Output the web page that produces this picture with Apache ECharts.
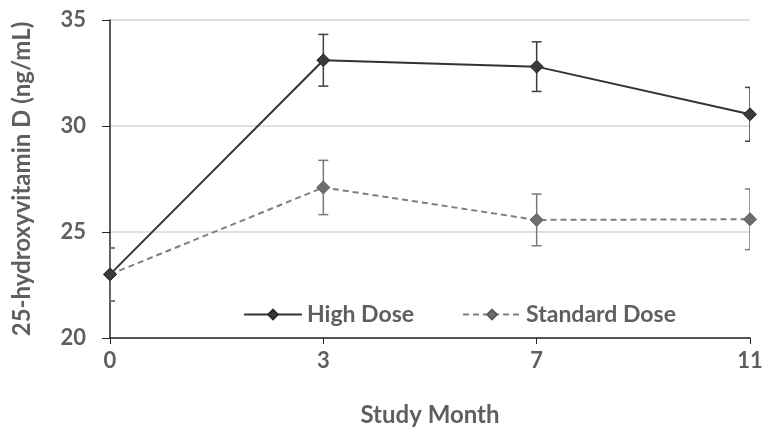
<!DOCTYPE html>
<html><head><meta charset="utf-8">
<script src="https://cdn.jsdelivr.net/npm/echarts@6/dist/echarts.min.js"></script>
<style>html,body{margin:0;padding:0;background:#fff}#c{width:770px;height:440px}</style>
</head><body><div id="c"></div>
<script>
const categories = ['0', '3', '7', '11'];
const highDose = [23.0, 33.1, 32.8, 30.55];
const highErr = [1.25, 1.22, 1.17, 1.27];
const standardDose = [23.0, 27.1, 25.57, 25.6];
const standardErr = [1.25, 1.28, 1.22, 1.43];
const yTicks = [20, 25, 30, 35];

const FONT = 'Lato, "Open Sans", sans-serif';
const TXT = '#5f5f5f';

function errSeries(name, vals, errs, color) {
  return {
    type: 'custom', name: name + ' err', z: 1, clip: true,
    data: vals.map((v, i) => [i, v - errs[i], v + errs[i]]),
    renderItem: function (params, api) {
      const lo = api.coord([api.value(0), api.value(1)]);
      const hi = api.coord([api.value(0), api.value(2)]);
      const hw = 5;
      const st = { stroke: color, lineWidth: 1.5 };
      return { type: 'group', children: [
        { type: 'line', shape: { x1: lo[0], y1: lo[1], x2: hi[0], y2: hi[1] }, style: st },
        { type: 'line', shape: { x1: lo[0] - hw, y1: lo[1], x2: lo[0] + hw, y2: lo[1] }, style: st },
        { type: 'line', shape: { x1: hi[0] - hw, y1: hi[1], x2: hi[0] + hw, y2: hi[1] }, style: st }
      ]};
    },
    silent: true
  };
}

const chart = echarts.init(document.getElementById('c'));
chart.setOption({
  animation: false,
  textStyle: { fontFamily: FONT },
  grid: { left: 110, right: 20, top: 20, bottom: 102 },
  legend: {
    left: 238, top: 298, itemWidth: 58, itemHeight: 12, itemGap: 48,
    textStyle: { color: TXT, fontSize: 23, fontWeight: 'bold', fontFamily: FONT },
    data: ['High Dose', 'Standard Dose']
  },
  xAxis: {
    type: 'category', data: categories, boundaryGap: false,
    axisLine: { lineStyle: { color: '#262626', width: 1.5 } },
    axisTick: { show: true, alignWithLabel: true, length: 6, lineStyle: { color: '#262626' } },
    axisLabel: { color: TXT, fontSize: 22, fontWeight: 'bold', margin: 12 },
    name: 'Study Month', nameLocation: 'middle', nameGap: 65,
    nameTextStyle: { color: TXT, fontSize: 24, fontWeight: 'bold' }
  },
  yAxis: {
    type: 'value', min: yTicks[0], max: yTicks[yTicks.length - 1], interval: 5,
    axisLine: { show: true, lineStyle: { color: '#262626', width: 1.5 } },
    axisTick: { show: true, length: 8, lineStyle: { color: '#262626' } },
    axisLabel: { color: TXT, fontSize: 22, fontWeight: 'bold', margin: 24 },
    splitLine: { lineStyle: { color: '#d4d4d4', width: 1.5 } },
    name: '25-hydroxyvitamin D (ng/mL)', nameLocation: 'middle', nameGap: 76,
    nameTextStyle: { color: TXT, fontSize: 24, fontWeight: 'bold' }
  },
  series: [
    errSeries('High Dose', highDose, highErr, '#3f3f3f'),
    errSeries('Standard Dose', standardDose, standardErr, '#7a7a7a'),
    {
      name: 'Standard Dose', type: 'line', data: standardDose, z: 3,
      symbol: 'diamond', symbolSize: 13,
      lineStyle: { color: '#7f7f7f', width: 2, type: [6, 4] },
      itemStyle: { color: '#6e6e6e', borderColor: '#5a5a5a', borderWidth: 1 }
    },
    {
      name: 'High Dose', type: 'line', data: highDose, z: 4,
      symbol: 'diamond', symbolSize: 13,
      lineStyle: { color: '#333333', width: 2 },
      itemStyle: { color: '#3a3a3a', borderColor: '#2a2a2a', borderWidth: 1 }
    }
  ]
});
</script></body></html>
